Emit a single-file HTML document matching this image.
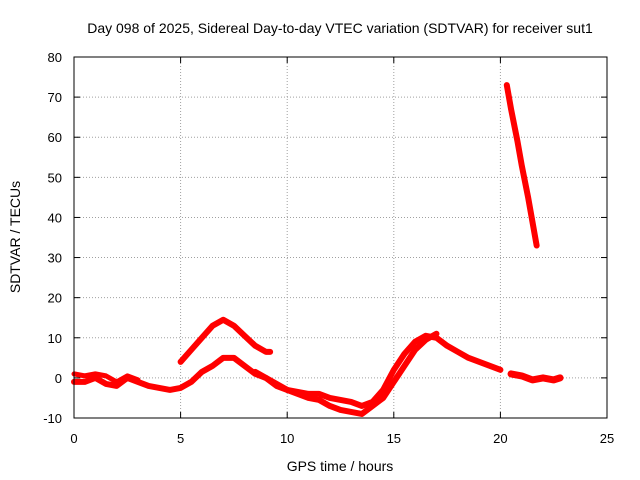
<!DOCTYPE html>
<html><head><meta charset="utf-8"><style>
body{margin:0;background:#fff}
svg{display:block;font-family:"Liberation Sans",sans-serif}
</style></head><body>
<svg id="chart" width="640" height="480">
<text x="340" y="33" font-size="14" text-anchor="middle">Day 098 of 2025, Sidereal Day-to-day VTEC variation (SDTVAR) for receiver sut1</text>
<text x="340" y="471" font-size="14" text-anchor="middle">GPS time / hours</text>
<text transform="translate(20,237) rotate(-90)" font-size="14" text-anchor="middle">SDTVAR / TECUs</text>
<g id="grid"></g><g id="ticks"></g><g id="series"></g>
<rect x="74" y="57" width="533" height="361" fill="none" stroke="#000"/>
</svg>
<script>
const xTicks=[0,5,10,15,20,25];
const yTicks=[-10,0,10,20,30,40,50,60,70,80];
const trackMainT=[0,0.5,1,1.5,2,2.5,3,3.5,4,4.5,5,5.5,6,6.5,7,7.5,8,8.5,9,9.5,10,10.5,11,11.5,12,12.5,13,13.5,14,14.5,15,15.5,16,16.5,17,17.5,18,18.5,19,19.5,20];
const trackMainV=[-1,-1,0,-1.5,-2,0,-1,-2,-2.5,-3,-2.5,-1,1.5,3,5,5,3,1,0,-2,-3,-3.5,-4,-4,-5,-5.5,-6,-7,-6,-3,2,6,9,10.5,10,8,6.5,5,4,3,2];
const trackLowT=[8.5,9,9.5,10,10.5,11,11.5,12,12.5,13,13.5,14,14.5,15,15.5,16,16.5,17];
const trackLowV=[1.5,0,-1.5,-3,-4,-5,-5.5,-7,-8,-8.5,-9,-7,-5,-1,3,7,9.5,11];
const trackUpT=[0,0.5,1,1.5,2,2.5,3];
const trackUpV=[1,0.5,1,0.5,-1,0.5,-0.5];
const trackPeakT=[5,5.5,6,6.5,7,7.5,8,8.5,9,9.2];
const trackPeakV=[4,7,10,13,14.5,13,10.5,8,6.5,6.5];
const trackSteepT=[20.3,20.5,20.8,21,21.3,21.5,21.7];
const trackSteepV=[73,67,59,53,45,39,33];
const trackLateT=[20.5,21,21.5,22,22.5,22.8];
const trackLateV=[1,0.5,-0.5,0,-0.5,0];
const X=t=>74+t*533/25, Y=v=>418-(v+10)*361/90;
const NS="http://www.w3.org/2000/svg";
const g=document.getElementById('grid'),tk=document.getElementById('ticks'),s=document.getElementById('series');
function mk(tag,at,p){const e=document.createElementNS(NS,tag);for(const k in at)e.setAttribute(k,at[k]);p.appendChild(e);return e;}
xTicks.forEach(t=>{
 if(t>0&&t<25){const l=mk('line',{x1:X(t),x2:X(t),y1:57,y2:418,stroke:'#a0a0a0','stroke-dasharray':'1,2'},g);
 
 }
 const tx=mk('text',{x:X(t),y:443,'font-size':13,'text-anchor':'middle'},tk);tx.textContent=t;
 
 
 mk('line',{x1:X(t),x2:X(t),y1:418,y2:412,stroke:'#000'},tk);mk('line',{x1:X(t),x2:X(t),y1:57,y2:63,stroke:'#000'},tk);
});
yTicks.forEach(v=>{
 if(v>-10&&v<80){const l=mk('line',{x1:74,x2:607,y1:Y(v),y2:Y(v),stroke:'#a0a0a0','stroke-dasharray':'1,2'},g);
 
 }
 const tx=mk('text',{x:62,y:Y(v)+5,'font-size':13,'text-anchor':'end'},tk);tx.textContent=v;
 
 
 mk('line',{x1:74,x2:80,y1:Y(v),y2:Y(v),stroke:'#000'},tk);mk('line',{x1:601,x2:607,y1:Y(v),y2:Y(v),stroke:'#000'},tk);
});
function track(T,V,name,w){
 const p=mk('polyline',{points:T.map((t,i)=>X(t)+','+Y(V[i])).join(' '),fill:'none',stroke:'#f00','stroke-width':w,'stroke-linejoin':'round','stroke-linecap':'round'},s);
 
 
}
track(trackMainT,trackMainV,'series-main-track',6);
track(trackLowT,trackLowV,'series-low-track',6);
track(trackUpT,trackUpV,'series-upper-track',5);
track(trackPeakT,trackPeakV,'series-peak-track',6);
track(trackSteepT,trackSteepV,'series-steep-track',6);
track(trackLateT,trackLateV,'series-late-track',7);
</script>
</body></html>
